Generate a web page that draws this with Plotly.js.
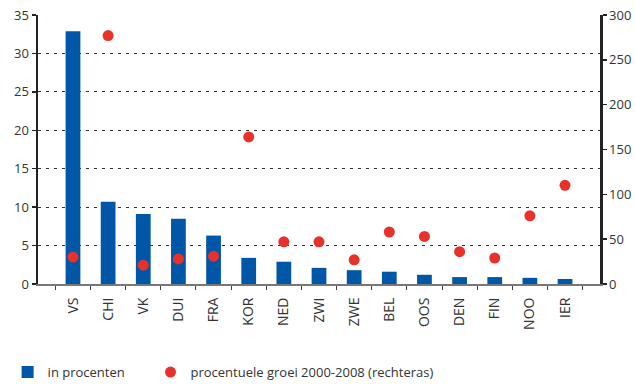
<!DOCTYPE html>
<html><head><meta charset="utf-8">
<script src="https://cdn.plot.ly/plotly-3.0.1.min.js"></script>
<style>html,body{margin:0;padding:0;background:#fff}#c{width:635px;height:384px}</style>
</head><body><div id="c"></div>
<script>
const categories = ["VS","CHI","VK","DUI","FRA","KOR","NED","ZWI","ZWE","BEL","OOS","DEN","FIN","NOO","IER"];
const shares = [32.9,10.7,9.1,8.5,6.3,3.4,2.9,2.1,1.8,1.6,1.2,0.9,0.9,0.8,0.65];
const growth = [30,277,21,28,31,164,47,47,27,58,53,36,29,76,110];
const leftTicks = [0,5,10,15,20,25,30,35];
const rightTicks = [0,50,100,150,200,250,300];
const names = ["in procenten","procentuele groei 2000-2008 (rechteras)"];

const font = {family:"Open Sans, Lato, sans-serif", size:13, color:"#333"};
const data = [
  {type:"bar", x:categories, y:shares, name:names[0], marker:{color:"#0057A8"}, width:0.42, yaxis:"y", legend:"legend"},
  {type:"scatter", mode:"markers", x:categories, y:growth, name:names[1], marker:{color:"#E8312A", size:11}, yaxis:"y2", legend:"legend2"}
];
const legBase = {orientation:"h", xref:"container", yref:"container", y:0.031, xanchor:"left", yanchor:"middle", bgcolor:"rgba(0,0,0,0)", font:{family:font.family,size:13,color:"#333"}};
const layout = {
  width:635, height:384,
  margin:{l:38, r:35, t:15, b:100},
  paper_bgcolor:"#fff", plot_bgcolor:"#fff",
  font:font,
  showlegend:true,
  legend:Object.assign({}, legBase, {x:0.012}),
  legend2:Object.assign({}, legBase, {x:0.237}),
  xaxis:{type:"category", automargin:false, tickangle:-90, ticks:"outside", tickson:"boundaries", ticklen:4, tickcolor:"#444", ticklabelstandoff:6, showline:true, linecolor:"#777", linewidth:2, showgrid:false, tickfont:{size:14,color:"#333"}},
  yaxis:{range:[0,35], automargin:false, tickvals:leftTicks, ticks:"outside", ticklen:4, tickwidth:1.5, tickcolor:"#222", showline:true, linecolor:"#222", linewidth:2.5, showgrid:true, gridcolor:"#333", griddash:"3px,5px", gridwidth:1, zeroline:false, tickfont:{size:13,color:"#333"}},
  yaxis2:{range:[0,300], automargin:false, tickvals:rightTicks, overlaying:"y", side:"right", ticks:"outside", ticklen:4, tickwidth:1.5, tickcolor:"#222", showline:true, linecolor:"#222", linewidth:2.5, showgrid:false, zeroline:false, tickfont:{size:13,color:"#333"}}
};
Plotly.newPlot("c", data, layout, {displayModeBar:false, staticPlot:true});
</script></body></html>
